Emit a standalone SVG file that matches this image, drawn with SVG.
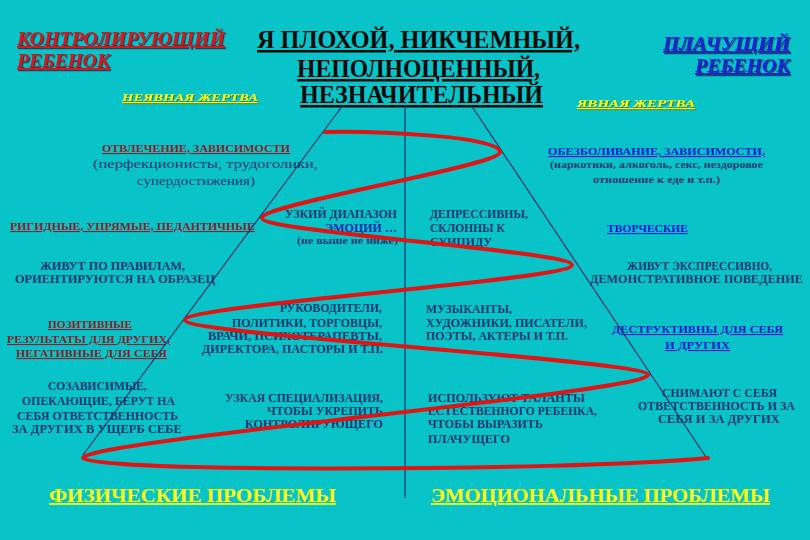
<svg xmlns="http://www.w3.org/2000/svg" width="810" height="540" viewBox="0 0 810 540">
<defs>
<filter id="sh" x="-5%" y="-20%" width="110%" height="150%"><feDropShadow dx="1.2" dy="1.2" stdDeviation="0.3" flood-color="#1a1a3a" flood-opacity="0.8"/></filter>
<filter id="shy" x="-5%" y="-20%" width="110%" height="150%"><feDropShadow dx="1" dy="1" stdDeviation="0.3" flood-color="#3a6a30" flood-opacity="0.8"/></filter>
<style>
text{font-family:"Liberation Serif","DejaVu Serif",serif;font-weight:bold;}
.t1{font-size:19px;font-style:italic;text-decoration:underline;}
.red{fill:#d81818;}
.blue{fill:#1a22d8;}
.yel{fill:#ffff10;}
.small{font-size:11px;font-style:italic;text-decoration:underline;}
.main{font-size:25px;fill:#0a0a0a;text-decoration:underline;}
.b{font-size:11.5px;fill:#1c3a70;}
.hr{font-size:11px;fill:#8a1f2a;text-decoration:underline;}
.hb{font-size:11px;fill:#1a1ad0;text-decoration:underline;}
.bot{font-size:18px;fill:#ffff10;text-decoration:underline;}
.ln{stroke:#1c3068;stroke-width:1.2;fill:none;}
.sp{stroke:#e01414;stroke-width:4;fill:none;stroke-linecap:round;stroke-linejoin:round;}
</style>
</defs>
<rect x="0" y="0" width="810" height="540" fill="#08c4c8"/>

<g id="controlling-child" filter="url(#sh)">
<text class="t1 red" x="17" y="45" textLength="208" lengthAdjust="spacingAndGlyphs">КОНТРОЛИРУЮЩИЙ</text>
<text class="t1 red" x="17" y="67" textLength="93" lengthAdjust="spacingAndGlyphs">РЕБЕНОК</text>
</g>
<g id="implicit-victim" filter="url(#shy)">
<text class="small yel" x="122" y="101" textLength="136" lengthAdjust="spacingAndGlyphs">НЕЯВНАЯ  ЖЕРТВА</text>
</g>
<g id="title">
<text class="main" x="257" y="48" textLength="323" lengthAdjust="spacingAndGlyphs">Я ПЛОХОЙ, НИКЧЕМНЫЙ,</text>
<text class="main" x="297" y="77" textLength="243" lengthAdjust="spacingAndGlyphs">НЕПОЛНОЦЕННЫЙ,</text>
<text class="main" x="300" y="103" textLength="243" lengthAdjust="spacingAndGlyphs">НЕЗНАЧИТЕЛЬНЫЙ</text>
</g>
<g id="crying-child" filter="url(#sh)">
<text class="t1 blue" x="663" y="50" textLength="127" lengthAdjust="spacingAndGlyphs">ПЛАЧУЩИЙ</text>
<text class="t1 blue" x="695" y="72" textLength="95" lengthAdjust="spacingAndGlyphs">РЕБЕНОК</text>
</g>
<g id="explicit-victim" filter="url(#shy)">
<text class="small yel" x="577" y="107" textLength="118" lengthAdjust="spacingAndGlyphs">ЯВНАЯ  ЖЕРТВА</text>
</g>

<g id="distraction">
<text class="hr" x="102" y="152" textLength="188" lengthAdjust="spacingAndGlyphs">ОТВЛЕЧЕНИЕ, ЗАВИСИМОСТИ</text>
<text class="b" x="93" y="168" textLength="225" lengthAdjust="spacingAndGlyphs" style="font-weight:normal;font-size:13px">(перфекционисты, трудоголики,</text>
<text class="b" x="137" y="185" textLength="118" lengthAdjust="spacingAndGlyphs" style="font-weight:normal;font-size:13px">супердостижения)</text>
</g>
<g id="anesthesia">
<text class="hb" x="548" y="155" textLength="217" lengthAdjust="spacingAndGlyphs">ОБЕЗБОЛИВАНИЕ, ЗАВИСИМОСТИ,</text>
<text class="b" x="550" y="168" textLength="213" lengthAdjust="spacingAndGlyphs" style="font-size:11px">(наркотики, алкоголь, секс, нездоровое</text>
<text class="b" x="593" y="183" textLength="127" lengthAdjust="spacingAndGlyphs" style="font-size:11px">отношение к еде и т.п.)</text>
</g>
<g id="rigid">
<text class="hr" x="10" y="230" textLength="245" lengthAdjust="spacingAndGlyphs">РИГИДНЫЕ, УПРЯМЫЕ, ПЕДАНТИЧНЫЕ</text>
</g>
<g id="narrow-range">
<text class="b" x="285" y="218" textLength="112" lengthAdjust="spacingAndGlyphs">УЗКИЙ ДИАПАЗОН</text>
<text class="b" x="325" y="232" textLength="72" lengthAdjust="spacingAndGlyphs" style="fill:#1a2ab0">ЭМОЦИЙ …</text>
<text class="b" x="297" y="244" textLength="101" lengthAdjust="spacingAndGlyphs" style="font-size:10px">(не выше не ниже)</text>
</g>
<g id="rules">
<text class="b" x="40" y="270" textLength="145" lengthAdjust="spacingAndGlyphs">ЖИВУТ ПО ПРАВИЛАМ,</text>
<text class="b" x="15" y="283" textLength="200" lengthAdjust="spacingAndGlyphs">ОРИЕНТИРУЮТСЯ  НА  ОБРАЗЕЦ</text>
</g>
<g id="depressive">
<text class="b" x="430" y="218" textLength="98" lengthAdjust="spacingAndGlyphs">ДЕПРЕССИВНЫ,</text>
<text class="b" x="430" y="232" textLength="75" lengthAdjust="spacingAndGlyphs">СКЛОННЫ К</text>
<text class="b" x="430" y="246" textLength="62" lengthAdjust="spacingAndGlyphs">СУИЦИДУ</text>
</g>
<g id="creative">
<text class="hb" x="607" y="232" textLength="81" lengthAdjust="spacingAndGlyphs">ТВОРЧЕСКИЕ</text>
</g>
<g id="expressive">
<text class="b" x="627" y="270" textLength="145" lengthAdjust="spacingAndGlyphs">ЖИВУТ  ЭКСПРЕССИВНО,</text>
<text class="b" x="590" y="283" textLength="213" lengthAdjust="spacingAndGlyphs">ДЕМОНСТРАТИВНОЕ  ПОВЕДЕНИЕ</text>
</g>
<g id="positive">
<text class="hr" x="48" y="328" textLength="84" lengthAdjust="spacingAndGlyphs">ПОЗИТИВНЫЕ</text>
<text class="hr" x="7" y="343" textLength="163" lengthAdjust="spacingAndGlyphs">РЕЗУЛЬТАТЫ ДЛЯ ДРУГИХ,</text>
<text class="hr" x="16" y="357" textLength="151" lengthAdjust="spacingAndGlyphs">НЕГАТИВНЫЕ ДЛЯ СЕБЯ</text>
</g>
<g id="leaders">
<text class="b" x="280" y="312" textLength="102" lengthAdjust="spacingAndGlyphs">РУКОВОДИТЕЛИ,</text>
<text class="b" x="232" y="327" textLength="150" lengthAdjust="spacingAndGlyphs">ПОЛИТИКИ, ТОРГОВЦЫ,</text>
<text class="b" x="208" y="340" textLength="174" lengthAdjust="spacingAndGlyphs">ВРАЧИ, ПСИХОТЕРАПЕВТЫ,</text>
<text class="b" x="202" y="353" textLength="181" lengthAdjust="spacingAndGlyphs">ДИРЕКТОРА, ПАСТОРЫ И Т.П.</text>
</g>
<g id="musicians">
<text class="b" x="426" y="313" textLength="86" lengthAdjust="spacingAndGlyphs">МУЗЫКАНТЫ,</text>
<text class="b" x="426" y="327" textLength="161" lengthAdjust="spacingAndGlyphs">ХУДОЖНИКИ, ПИСАТЕЛИ,</text>
<text class="b" x="426" y="340" textLength="142" lengthAdjust="spacingAndGlyphs">ПОЭТЫ, АКТЕРЫ И Т.П.</text>
</g>
<g id="destructive">
<text class="hb" x="612" y="333" textLength="171" lengthAdjust="spacingAndGlyphs">ДЕСТРУКТИВНЫ  ДЛЯ  СЕБЯ</text>
<text class="hb" x="665" y="349" textLength="65" lengthAdjust="spacingAndGlyphs">И  ДРУГИХ</text>
</g>
<g id="codependent">
<text class="b" x="48" y="390" textLength="99" lengthAdjust="spacingAndGlyphs">СОЗАВИСИМЫЕ,</text>
<text class="b" x="22" y="405" textLength="153" lengthAdjust="spacingAndGlyphs">ОПЕКАЮЩИЕ, БЕРУТ НА</text>
<text class="b" x="17" y="420" textLength="161" lengthAdjust="spacingAndGlyphs">СЕБЯ  ОТВЕТСТВЕННОСТЬ</text>
<text class="b" x="12" y="433" textLength="170" lengthAdjust="spacingAndGlyphs">ЗА ДРУГИХ В  УЩЕРБ  СЕБЕ</text>
</g>
<g id="specialization">
<text class="b" x="225" y="402" textLength="158" lengthAdjust="spacingAndGlyphs">УЗКАЯ СПЕЦИАЛИЗАЦИЯ,</text>
<text class="b" x="267" y="415" textLength="116" lengthAdjust="spacingAndGlyphs">ЧТОБЫ УКРЕПИТЬ</text>
<text class="b" x="245" y="428" textLength="138" lengthAdjust="spacingAndGlyphs">КОНТРОЛИРУЮЩЕГО</text>
</g>
<g id="talents">
<text class="b" x="428" y="402" textLength="157" lengthAdjust="spacingAndGlyphs">ИСПОЛЬЗУЮТ ТАЛАНТЫ</text>
<text class="b" x="428" y="415" textLength="169" lengthAdjust="spacingAndGlyphs">ЕСТЕСТВЕННОГО РЕБЕНКА,</text>
<text class="b" x="428" y="428" textLength="115" lengthAdjust="spacingAndGlyphs">ЧТОБЫ ВЫРАЗИТЬ</text>
<text class="b" x="428" y="443" textLength="82" lengthAdjust="spacingAndGlyphs">ПЛАЧУЩЕГО</text>
</g>
<g id="responsibility">
<text class="b" x="662" y="397" textLength="115" lengthAdjust="spacingAndGlyphs">СНИМАЮТ С СЕБЯ</text>
<text class="b" x="638" y="410" textLength="157" lengthAdjust="spacingAndGlyphs">ОТВЕТСТВЕННОСТЬ И ЗА</text>
<text class="b" x="658" y="423" textLength="122" lengthAdjust="spacingAndGlyphs">СЕБЯ  И  ЗА  ДРУГИХ</text>
</g>
<g id="physical">
<text class="bot" x="49" y="502" textLength="287" lengthAdjust="spacingAndGlyphs">ФИЗИЧЕСКИЕ   ПРОБЛЕМЫ</text>
</g>
<g id="emotional">
<text class="bot" x="431" y="502" textLength="339" lengthAdjust="spacingAndGlyphs">ЭМОЦИОНАЛЬНЫЕ   ПРОБЛЕМЫ</text>
</g>

<g id="connectors">
<line class="ln" x1="343" y1="105" x2="83" y2="455"/>
<line class="ln" x1="471" y1="105" x2="708" y2="460"/>
<line class="ln" x1="405" y1="105" x2="405" y2="498"/>
<path class="sp" d="M325,132 C375,131 500,136 500,152 C500,166 262,204 262,218 C262,232 572,251 572,265 C572,280 185,305 185,320 C185,335 648,360 648,375 C648,392 83,441 83,458 C83,472 560,472 708,458"/>
</g>
</svg>
